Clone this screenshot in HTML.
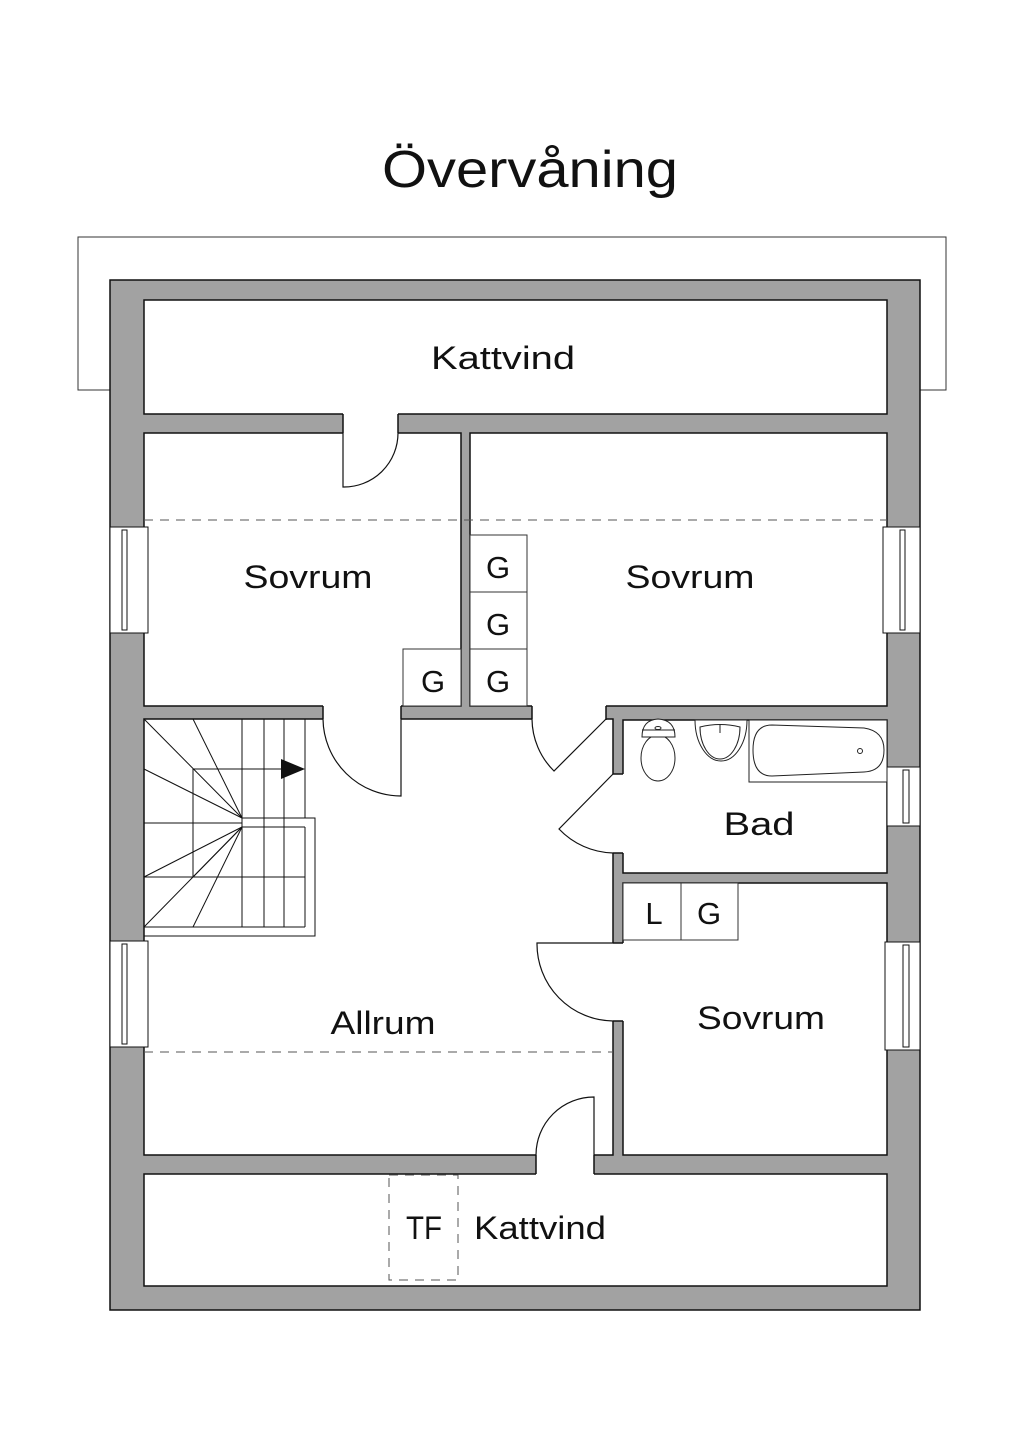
<!DOCTYPE html>
<html><head><meta charset="utf-8"><style>
html,body{margin:0;padding:0;background:#fff;}
svg{display:block;}
text{font-family:"Liberation Sans",sans-serif;fill:#111;}
</style></head><body>
<svg width="1024" height="1448" viewBox="0 0 1024 1448" xmlns="http://www.w3.org/2000/svg">
<rect x="0" y="0" width="1024" height="1448" fill="#fff"/>
<text x="530" y="187" font-size="52" text-anchor="middle" textLength="296" lengthAdjust="spacingAndGlyphs">Övervåning</text>
<!-- roof outline -->
<rect x="78" y="237" width="868" height="153" fill="none" stroke="#333" stroke-width="1"/>
<!-- building -->
<rect x="110" y="280" width="810" height="1030" fill="#a2a2a2" stroke="#111" stroke-width="1.5"/>
<g fill="#fff" stroke="#111" stroke-width="1.5">
<rect x="144" y="300" width="743" height="114"/>
<rect x="144" y="433" width="317" height="273"/>
<rect x="470" y="433" width="417" height="273"/>
<rect x="144" y="719" width="469" height="436"/>
<rect x="623" y="720" width="264" height="153"/>
<rect x="623" y="883" width="264" height="272"/>
<rect x="144" y="1174" width="743" height="112"/>
</g>
<!-- door gaps -->
<g fill="#fff" stroke="none">
<rect x="343" y="412" width="55" height="23"/>
<rect x="323" y="704" width="78" height="17"/>
<rect x="532" y="704" width="74" height="17"/>
<rect x="611" y="774" width="14" height="79"/>
<rect x="611" y="943" width="14" height="78"/>
<rect x="536" y="1153" width="58" height="23"/>
</g>
<g stroke="#111" stroke-width="1.5" fill="none">
<line x1="343" y1="414" x2="343" y2="433"/><line x1="398" y1="414" x2="398" y2="433"/>
<line x1="323" y1="706" x2="323" y2="719"/><line x1="401" y1="706" x2="401" y2="719"/>
<line x1="532" y1="706" x2="532" y2="719"/><line x1="606" y1="706" x2="606" y2="720"/>
<line x1="613" y1="774" x2="623" y2="774"/><line x1="613" y1="853" x2="623" y2="853"/>
<line x1="613" y1="943" x2="623" y2="943"/><line x1="613" y1="1021" x2="623" y2="1021"/>
<line x1="536" y1="1155" x2="536" y2="1174"/><line x1="594" y1="1155" x2="594" y2="1174"/>
</g>
<!-- door swings -->
<g stroke="#111" stroke-width="1.2" fill="none">
<path d="M343,433 L343,487 A54,54 0 0 0 398,433"/>
<path d="M401,719 L401,796 A78,78 0 0 1 323,719"/>
<path d="M606,719 L554,771 A74,74 0 0 1 532,719"/>
<path d="M613,774 L559,829 A77,77 0 0 0 613,853"/>
<path d="M613,943 L537,943 A77,77 0 0 0 613,1021"/>
<path d="M594,1155 L594,1097 A58,58 0 0 0 536,1155"/>
</g>
<!-- dashed -->
<g stroke="#555" stroke-width="1" stroke-dasharray="9,7" fill="none">
<line x1="144" y1="520" x2="887" y2="520"/>
<line x1="144" y1="1052" x2="613" y2="1052"/>
<rect x="389" y="1175" width="69" height="105"/>
</g>
<!-- closets -->
<g fill="#fff" stroke="#333" stroke-width="1">
<rect x="403" y="649" width="58" height="57"/>
<rect x="470" y="535" width="57" height="57"/>
<rect x="470" y="592" width="57" height="57"/>
<rect x="470" y="649" width="57" height="57"/>
<rect x="623" y="883" width="58" height="57"/>
<rect x="681" y="883" width="57" height="57"/>
</g>
<g font-size="31" text-anchor="middle">
<text x="433" y="692">G</text>
<text x="498" y="578">G</text>
<text x="498" y="635">G</text>
<text x="498" y="692">G</text>
<text x="654" y="924">L</text>
<text x="709" y="924">G</text>
</g>
<!-- windows -->
<g fill="#fff" stroke="#111" stroke-width="1">
<rect x="110" y="527" width="38" height="106"/><rect x="122" y="530" width="5" height="100"/>
<rect x="110" y="941" width="38" height="106"/><rect x="122" y="944" width="5" height="100"/>
<rect x="883" y="527" width="37" height="106"/><rect x="900" y="530" width="5" height="100"/>
<rect x="887" y="767" width="33" height="59"/><rect x="903" y="770" width="6" height="53"/>
<rect x="885" y="942" width="35" height="108"/><rect x="903" y="945" width="6" height="102"/>
</g>
<!-- stairs -->
<g stroke="#111" stroke-width="1" fill="none">
<line x1="242" y1="719" x2="242" y2="927"/>
<line x1="264" y1="719" x2="264" y2="927"/>
<line x1="284" y1="719" x2="284" y2="927"/>
<line x1="305" y1="719" x2="305" y2="818"/>
<line x1="305" y1="827" x2="305" y2="927"/>
<polyline points="242,818 315,818 315,936 144,936"/>
<line x1="242" y1="827" x2="305" y2="827"/>
<line x1="144" y1="927" x2="305" y2="927"/>
<line x1="193" y1="769" x2="300" y2="769"/>
<line x1="193" y1="769" x2="193" y2="877"/>
<line x1="144" y1="823" x2="242" y2="823"/>
<line x1="144" y1="877" x2="305" y2="877"/>
<line x1="242" y1="818" x2="144" y2="719"/>
<line x1="242" y1="818" x2="193" y2="719"/>
<line x1="242" y1="818" x2="144" y2="769"/>
<line x1="242" y1="827" x2="144" y2="877"/>
<line x1="242" y1="827" x2="193" y2="877"/>
<line x1="242" y1="827" x2="144" y2="927"/>
<line x1="242" y1="827" x2="193" y2="927"/>
</g>
<polygon points="281,759 305,769 281,779" fill="#111"/>
<!-- bath fixtures -->
<g stroke="#222" stroke-width="1" fill="#fff">
<ellipse cx="658" cy="758" rx="17" ry="23"/>
<path d="M642,737 Q642,720 658,719 Q675,720 675,737 Z"/>
<line x1="642" y1="730" x2="675" y2="730"/>
<ellipse cx="658" cy="728" rx="3" ry="1.5"/>
<path d="M695,720 A26,41 0 0 0 747,720 Z" />
<path d="M700,727 A20,32 0 0 0 740,727 Q720,722 700,727 Z"/>
<line x1="720" y1="724" x2="720" y2="733"/>
<rect x="749" y="720" width="138" height="62" fill="#fff"/>
<path d="M772,725 L864,728 Q884,731 884,750 Q884,771 864,772 L772,776 Q753,776 753,750 Q753,725 772,725 Z"/>
<circle cx="860" cy="751" r="2.5"/>
</g>
<!-- labels -->
<g font-size="32" text-anchor="middle">
<text x="503" y="369" textLength="144" lengthAdjust="spacingAndGlyphs">Kattvind</text>
<text x="308" y="588" textLength="129" lengthAdjust="spacingAndGlyphs">Sovrum</text>
<text x="690" y="588" textLength="129" lengthAdjust="spacingAndGlyphs">Sovrum</text>
<text x="759" y="835" textLength="71" lengthAdjust="spacingAndGlyphs">Bad</text>
<text x="383" y="1034" textLength="105" lengthAdjust="spacingAndGlyphs">Allrum</text>
<text x="761" y="1029" textLength="128" lengthAdjust="spacingAndGlyphs">Sovrum</text>
<text x="424" y="1239" textLength="36" lengthAdjust="spacingAndGlyphs">TF</text>
<text x="540" y="1239" textLength="132" lengthAdjust="spacingAndGlyphs">Kattvind</text>
</g>
</svg>
</body></html>
